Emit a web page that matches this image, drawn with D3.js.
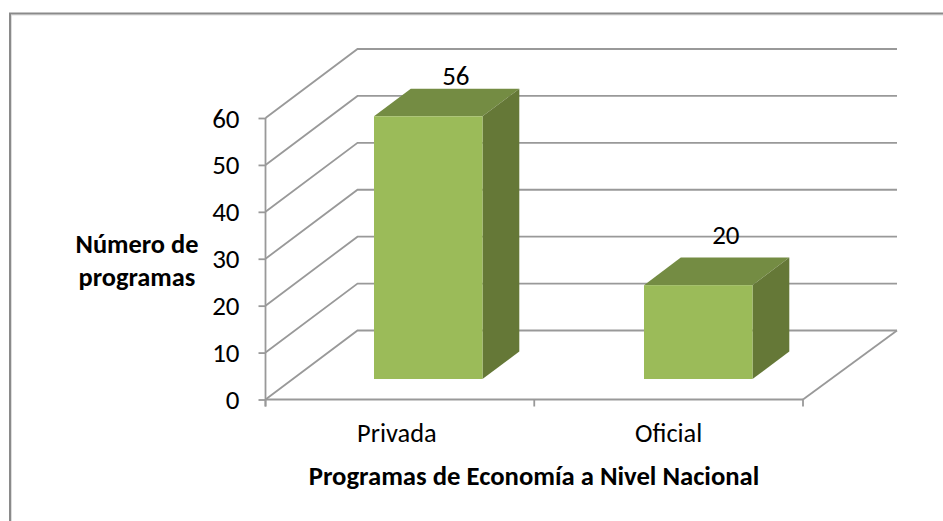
<!DOCTYPE html>
<html><head><meta charset="utf-8">
<script src="https://cdn.jsdelivr.net/npm/d3@7/dist/d3.min.js"></script>
<style>html,body{margin:0;padding:0;background:#fff}svg{display:block}text{font-family:Carlito,Calibri,"Open Sans","Noto Sans",sans-serif;fill:#000}</style>
</head><body><script>
const categories = ["Privada", "Oficial"];
const values = [56, 20];
const yTicks = [0, 10, 20, 30, 40, 50, 60];
const yTitle = ["Número de", "programas"];
const xTitle = "Programas de Economía a Nivel Nacional";

const W = 943, H = 521;
const svg = d3.select("body").append("svg").attr("width", W).attr("height", H);
const x = d3.scaleBand().domain(categories).range([265.5, 803]);
const barX = d3.scaleBand().domain(categories).range([293.5, 833.5]);
const y = d3.scaleLinear().domain([0, 60]).range([399.5, 118]);
const wallDx = 92, wallDy = -69;
const barFront = 0.297, barDepth = 0.4, barW = 108.5;
const labelLift = [4, 14];
const catNudge = [-3, 0];
const grid = "#999999";

svg.append("path").attr("d", `M11.5,521V15H943`).attr("fill", "none").attr("stroke", "#dddddd").attr("stroke-width", 1);
svg.append("path").attr("d", `M10,521V13.5H943`).attr("fill", "none").attr("stroke", "#8a8a8a").attr("stroke-width", 2);

const g = svg.append("g").attr("fill", "none").attr("stroke", grid).attr("stroke-width", 1.8);
g.selectAll("path.grid").data(yTicks).join("path").attr("class", "grid")
  .attr("d", d => `M${x.range()[0]},${y(d)}l${wallDx},${wallDy}H897`);
g.append("path").attr("d", `M897,${y(0) + wallDy}L${x.range()[1]},${y(0)}`);

const yAxis = svg.append("g").attr("transform", `translate(${x.range()[0]},0)`)
  .call(d3.axisLeft(y).tickValues(yTicks).tickSize(7).tickFormat(d3.format("d")));
const xAxis = svg.append("g").attr("transform", `translate(0,${y(0)})`)
  .call(d3.axisBottom(x).tickSize(7).tickFormat(""));
xAxis.selectAll(".tick").remove();
xAxis.selectAll("line.t").data(d3.range(categories.length + 1)).join("line").attr("class", "t")
  .attr("x1", i => x.range()[0] + i * x.step()).attr("x2", i => x.range()[0] + i * x.step())
  .attr("y1", 0).attr("y2", 7);
svg.selectAll(".domain,.tick line,line.t").attr("stroke", grid).attr("stroke-width", 1.8);
xAxis.select(".domain").attr("d", `M${x.range()[0]},0H${x.range()[1]}`);
yAxis.select(".domain").attr("d", `M0,${y(0) + 7}V${y(60)}`);
yAxis.selectAll(".tick text").attr("x", -26).attr("dy", "9px").style("font-size", "27px").style("font-family", null);

const bars = svg.selectAll("g.bar").data(categories.map((c, i) => ({c, v: values[i], i}))).join("g").attr("class", "bar")
  .attr("transform", d => `translate(${barX(d.c) + barX.bandwidth() / 2 - barW / 2 - 0.25},${wallDy * barFront})`);
const ddx = wallDx * barDepth, ddy = wallDy * barDepth;
bars.append("path").attr("fill", "#748c43")
  .attr("d", d => `M0,${y(d.v)}l${ddx},${ddy}h${barW}l${-ddx},${-ddy}Z`);
bars.append("path").attr("fill", "#657837")
  .attr("d", d => `M${barW},${y(d.v)}l${ddx},${ddy}V${y(0) + ddy}L${barW},${y(0)}Z`);
bars.append("rect").attr("fill", "#9bbb59").attr("width", barW)
  .attr("y", d => y(d.v)).attr("height", d => y(0) - y(d.v));
bars.append("text").attr("x", barW / 2 + ddx * 0.75).attr("y", d => y(d.v) + ddy - labelLift[d.i])
  .attr("text-anchor", "middle").style("font-size", "27px").text(d => d.v);

svg.selectAll("text.cat").data(categories).join("text").attr("class", "cat")
  .attr("x", (d, i) => x(d) + x.bandwidth() / 2 + catNudge[i]).attr("y", 442).attr("text-anchor", "middle")
  .style("font-size", "26.4px").text(d => d);
svg.append("text").attr("x", 534).attr("y", 485).attr("text-anchor", "middle")
  .style("font-size", "26.7px").style("font-weight", "bold").text(xTitle);
svg.selectAll("text.yt").data(yTitle).join("text").attr("class", "yt")
  .attr("x", 137).attr("y", (d, i) => 253 + i * 33).attr("text-anchor", "middle")
  .style("font-size", "26.4px").style("font-weight", "bold").text(d => d);
</script></body></html>
